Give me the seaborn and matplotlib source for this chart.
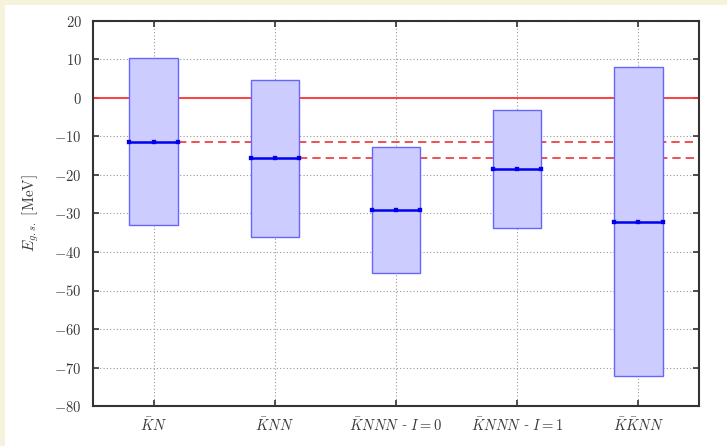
import matplotlib
matplotlib.use("Agg")
import matplotlib.pyplot as plt
from matplotlib.patches import Rectangle
import seaborn as sns
import pandas as pd

# Ground-state energy estimates per system (MeV)
systems = [r"$\bar{K}N$", r"$\bar{K}NN$", r"$\bar{K}NNN$ - $I=0$",
           r"$\bar{K}NNN$ - $I=1$", r"$\bar{K}\bar{K}NN$"]
lower = [-33.0, -36.2, -45.5, -33.8, -72.2]
central = [-11.4, -15.6, -29.2, -18.5, -32.2]
upper = [10.5, 4.8, -12.8, -3.0, 8.1]
yticks = [-80, -70, -60, -50, -40, -30, -20, -10, 0, 10, 20]

sns.set_theme(style="whitegrid")
plt.rcParams["mathtext.fontset"] = "cm"
plt.rcParams["font.family"] = ["DejaVu Serif"]

fig = plt.figure(figsize=(7.27, 4.46), dpi=100)
fig.patch.set_facecolor("#f5f3dc")
fig.patches.append(Rectangle((5 / 727, 0), 1 - 5 / 727, 1 - 5 / 446,
                             transform=fig.transFigure, facecolor="white",
                             edgecolor="none", zorder=-10))
ax = fig.add_axes([93 / 727, 40 / 446, 606 / 727, 385 / 446])
ax.set_facecolor("white")

x = list(range(len(systems)))
width = 0.4
df = pd.DataFrame({"x": x, "low": lower, "mid": central, "high": upper})

# reference lines: zero, and central values of the first two systems
ax.axhline(0, color="#ff3333", lw=1.3, zorder=2)
for i in (0, 1):
    ax.hlines(central[i], x[i] + width / 2, 4.5, colors="#ee3333",
              linestyles=(0, (5, 3)), lw=1.2, zorder=2)

# uncertainty boxes
ax.bar(df["x"], df["high"] - df["low"], bottom=df["low"], width=width,
       color="#ccccff", edgecolor="#6666ff", linewidth=1.0, zorder=3)

# central values
ax.hlines(df["mid"], df["x"] - width / 2, df["x"] + width / 2,
          colors="#0000ee", lw=1.8, zorder=4)
pts = pd.DataFrame({
    "x": list(df["x"] - width / 2) + list(df["x"]) + list(df["x"] + width / 2),
    "y": list(df["mid"]) * 3,
})
sns.scatterplot(data=pts, x="x", y="y", marker="s", s=8, color="#0000ee",
                edgecolor="#0000ee", ax=ax, zorder=5, legend=False)

ax.set_xlim(-0.5, 4.5)
ax.set_ylim(-80, 20)
ax.set_xticks(x)
ax.set_xticklabels(systems, fontsize=10.5, color="#3a3a3a")
ax.set_yticks(yticks)
ax.set_yticklabels([rf"${v}$" for v in yticks], fontsize=10.5, color="#3a3a3a")
ax.set_xlabel("")
ax.set_ylabel(r"$E_{g.s.}$ $[\mathrm{MeV}]$", fontsize=11, color="#3a3a3a",
              labelpad=10)

ax.grid(True, color="#999999", linestyle=(0, (1, 2)), linewidth=0.8)
ax.set_axisbelow(True)
for s in ax.spines.values():
    s.set_visible(True)
    s.set_color("#333333")
    s.set_linewidth(1.5)
ax.tick_params(axis="both", which="major", direction="in", length=4,
               width=1.2, color="#333333", top=True, right=True,
               left=True, bottom=True, pad=8)

fig.savefig("out.png", dpi=100, facecolor=fig.get_facecolor())
